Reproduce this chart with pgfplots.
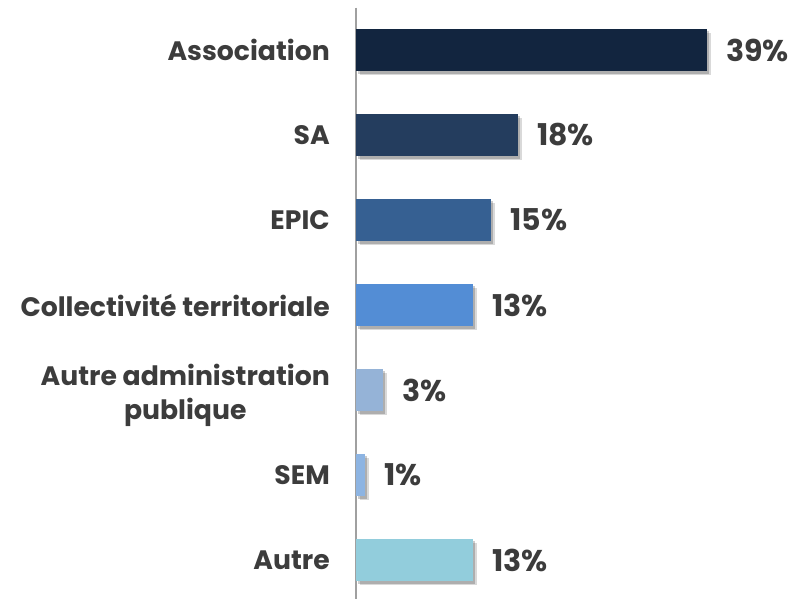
\documentclass[border=0pt]{standalone}
\usepackage{pgfplots}
\pgfplotsset{compat=1.18}
\usepackage{fontspec}
\setmainfont{Poppins}
\usetikzlibrary{shadows}
\definecolor{c1}{HTML}{12253F}
\definecolor{c2}{HTML}{243D5E}
\definecolor{c3}{HTML}{366092}
\definecolor{c4}{HTML}{538DD5}
\definecolor{c5}{HTML}{95B3D7}
\definecolor{c6}{HTML}{8DB4E2}
\definecolor{c7}{HTML}{92CDDC}
\definecolor{txt}{HTML}{3C3C3C}
\definecolor{axl}{HTML}{A0A0A0}
\begin{document}
\begin{tikzpicture}
\path[use as bounding box] (0,0) rectangle (600pt,449.25pt);
\begin{axis}[
  at={(267pt,-2.625pt)}, anchor=south west,
  scale only axis, width=330.75pt, height=446.25pt,
  xmin=0, xmax=49, ymin=-0.5, ymax=6.5, y dir=reverse,
  xbar, bar width=31.875pt,
  axis lines*=left,
  x axis line style={draw=none},
  y axis line style={draw=axl, line width=1.4pt},
  xtick=\empty,
  ytick={0,1,2,3,5,6},
  yticklabels={Association, SA, EPIC, Collectivité territoriale, SEM, Autre},
  extra y ticks={4},
  extra y tick labels={{Autre administration\\publique}},
  extra y tick style={yticklabel style={yshift=-4pt}},
  major tick length=0pt,
  /pgf/number format/assume math mode=true,
  yticklabel style={font=\fontsize{20}{25}\selectfont\bfseries, text=txt, align=center, inner sep=0pt, xshift=-19.5pt},
  nodes near coords={\pgfmathprintnumber{\pgfplotspointmeta}\%},
  nodes near coords style={font=\fontsize{22.5}{26}\selectfont\bfseries, text=txt, anchor=west, inner sep=0pt, xshift=14.25pt},
  every axis plot/.append style={draw=none, bar shift=0pt,
    drop shadow={shadow xshift=3pt, shadow yshift=-3pt, fill=black, opacity=0.15},
    drop shadow={shadow xshift=1.8pt, shadow yshift=-1.8pt, fill=black, opacity=0.2}},
  clip=false,
]
\addplot[fill=c1] coordinates {(39,0)};
\addplot[fill=c2] coordinates {(18,1)};
\addplot[fill=c3] coordinates {(15,2)};
\addplot[fill=c4] coordinates {(13,3)};
\addplot[fill=c5] coordinates {(3,4)};
\addplot[fill=c6] coordinates {(1,5)};
\addplot[fill=c7] coordinates {(13,6)};
\end{axis}
\end{tikzpicture}
\end{document}
